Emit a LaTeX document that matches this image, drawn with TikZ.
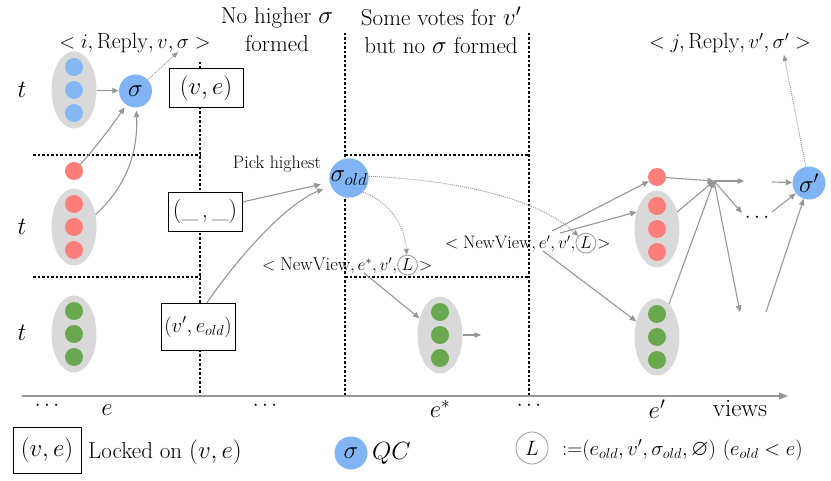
\documentclass[tikz,border=0pt]{standalone}
\usepackage{amssymb}
\usepackage{fontspec}
\usetikzlibrary{shapes.geometric,arrows.meta}
\definecolor{qcblue}{RGB}{128,180,244}
\definecolor{dotblue}{RGB}{133,183,245}
\definecolor{dotred}{RGB}{255,126,121}
\definecolor{dotgreen}{RGB}{106,168,79}
\definecolor{grpgray}{RGB}{217,217,217}
\definecolor{arrgray}{RGB}{150,150,150}
\newcommand\fsz[1]{\fontsize{#1}{#1}\selectfont}
\begin{document}
\begin{tikzpicture}[x=1pt,y=-1pt,
  grp/.style={ellipse,fill=grpgray,minimum width=45pt,minimum height=77pt,inner sep=0pt},
  dotb/.style={circle,fill=dotblue,minimum size=18pt,inner sep=0pt},
  dotr/.style={circle,fill=dotred,minimum size=18pt,inner sep=0pt},
  dotg/.style={circle,fill=dotgreen,minimum size=18pt,inner sep=0pt},
  qc/.style={circle,fill=qcblue,minimum size=33pt,inner sep=0pt,font=\fsz{24}},
  lock/.style={draw,line width=1pt,fill=white,inner sep=0pt,minimum width=74pt,minimum height=39pt,font=\fsz{24}},
  garrow/.style={draw=arrgray,line width=1.1pt,-{Triangle[length=6.5pt,width=5.5pt]}},
  darrow/.style={draw=arrgray,line width=0.9pt,dash pattern=on 1pt off 1pt,-{Triangle[length=6pt,width=5pt]}},
  sep/.style={draw=black,line width=1.4pt,dash pattern=on 2.5pt off 2pt},
  cl/.style={circle,draw=arrgray,line width=0.8pt,inner sep=1.2pt},
  txt/.style={inner sep=0pt}
]
\useasboundingbox (0,0) rectangle (831,481);

% separators
\draw[sep] (200,62) -- (200,397);
\draw[sep] (345,33) -- (345,397);
\draw[sep] (529,33) -- (529,397);
\draw[sep] (33,155) -- (200,155);
\draw[sep] (33,277) -- (200,277);
\draw[sep] (345,155) -- (529,155);
\draw[sep] (345,277) -- (529,277);

% axis
\coordinate (ax0) at (22,396);
\coordinate (ax1) at (788,396);
\draw[draw=arrgray,line width=1.4pt,-{Triangle[length=9pt,width=7pt]}] (ax0) -- (ax1);

% headings
\node[txt,align=center,font=\fsz{23}] (h1) at (277,30) {No higher $\sigma$\\[5pt]formed};
\node[txt,align=center,font=\fsz{23}] (h2) at (441,30) {Some votes for $v'$\\[5pt]but no $\sigma$ formed};
\node[txt,font=\fsz{22}] (rep1) at (135,43) {$<i,\mathrm{Reply},v,\sigma>$};
\node[txt,font=\fsz{22}] (rep2) at (730,43) {$<j,\mathrm{Reply},v',\sigma'>$};

% t labels
\node[txt,font=\fsz{26}] (t1) at (22,90) {$t$};
\node[txt,font=\fsz{26}] (t2) at (22,227) {$t$};
\node[txt,font=\fsz{26}] (t3) at (22,333) {$t$};

% left groups
\node[grp] (g1) at (74,90) {};
\node[dotb] (b1) at (74,67) {};
\node[dotb] (b2) at (74,90) {};
\node[dotb] (b3) at (74,113) {};
\node[qc] (sig) at (135.5,91) {$\sigma$};

\node[dotr] (r0) at (74,171) {};
\node[grp] (g2) at (74,227) {};
\node[dotr] (r1) at (74,204) {};
\node[dotr] (r2) at (74,227) {};
\node[dotr] (r3) at (74,250) {};

\node[grp] (g3) at (74,334) {};
\node[dotg] (gr1) at (74,311) {};
\node[dotg] (gr2) at (74,334) {};
\node[dotg] (gr3) at (74,357) {};

% lock boxes
\node[lock] (lk1) at (206,88.5) {$(v,e)$};
\node[lock] (lk2) at (205,212) {(\_\,,\,\_)};
\node[lock,minimum height=47pt,font=\fsz{20}] (lk3) at (198,327) {$(v',e_{old})$};

% sigma old
\node[qc,minimum size=39pt,font=\fsz{26}] (sold) at (349,178) {$\sigma_{old}$};
\node[txt,font=\fsz{18}] (pick) at (277,164) {Pick highest};

% NewView labels
\node[txt,font=\fsz{18.5},anchor=base west] (nv1) at (262,271) {$<\mathrm{NewView},e^*,v',$};
\node[cl,font=\fsz{18.5},anchor=base west] (nv1L) at (nv1.base east) {$L$};
\node[txt,font=\fsz{18.5},anchor=base west] (nv1e) at ([xshift=1pt]nv1L.base east) {$>$};
\node[txt,font=\fsz{18},anchor=base west] (nv2) at (445,249) {$<\mathrm{NewView},e',v',$};
\node[cl,font=\fsz{18},anchor=base west] (nv2L) at (nv2.base east) {$L$};
\node[txt,font=\fsz{18},anchor=base west] (nv2e) at ([xshift=1pt]nv2L.base east) {$>$};

% middle group
\node[grp] (g4) at (440,335) {};
\node[dotg] (m1) at (440,312) {};
\node[dotg] (m2) at (440,335) {};
\node[dotg] (m3) at (440,358) {};
\coordinate (g4out) at (481,335);

% right groups
\node[dotr] (rr0) at (657,177) {};
\node[grp] (g5) at (657,229) {};
\node[dotr] (rr1) at (657,206) {};
\node[dotr] (rr2) at (657,229) {};
\node[dotr] (rr3) at (657,252) {};
\node[grp] (g6) at (657,337) {};
\node[dotg] (rg1) at (657,314) {};
\node[dotg] (rg2) at (657,337) {};
\node[dotg] (rg3) at (657,360) {};
\node[qc] (sp) at (809,183) {$\sigma'$};
\node[txt,font=\fsz{22}] (rdots) at (757,218) {$\cdots$};

% coordinates
\coordinate (c1) at (178,52);
\coordinate (c2) at (784,55);
\coordinate (n1a) at (364,273);
\coordinate (n2a) at (552,231);
\coordinate (n2b) at (560,233);
\coordinate (n2c) at (543,251);
\coordinate (hub) at (714,181);
\coordinate (d1) at (744,181);
\coordinate (d2) at (742,213);
\coordinate (d3) at (740,312);
\coordinate (e1) at (772,182);
\coordinate (e2) at (772,212);
\coordinate (e3) at (766,312);

% left arrows
\draw[garrow] (g1) -- (sig);
\draw[darrow] (sig) -- (c1);
\draw[garrow,shorten >=3pt] (r0) .. controls (92,152) and (112,126) .. (sig);
\draw[garrow,shorten >=3pt] (g2.30) .. controls (128,185) and (138,150) .. (sig);
\draw[garrow,shorten >=9pt] (lk2.15) -- (sold);
\draw[garrow,shorten >=8pt] (lk3.70) .. controls (240,255) and (285,205) .. (sold);

% dotted from sigma old
\draw[darrow] (sold.-45) .. controls (395,205) and (405,230) .. (nv1L);
\draw[darrow] (sold.5) .. controls (460,180) and (540,200) .. (nv2L);

% middle arrows
\draw[garrow] (n1a) -- (g4);
\draw[garrow] (g4) -- (g4out);

% right arrows
\draw[garrow] (n2a) -- (rr0);
\draw[garrow] (n2b) -- (g5.140);
\draw[garrow] (n2c) -- (g6);
\draw[garrow] (rr0) -- (hub);
\draw[garrow] (g5) -- (hub);
\draw[garrow] (g6) -- (hub);
\draw[garrow] (hub) -- (d1);
\draw[garrow] (hub) -- (d2);
\draw[garrow] (hub) -- (d3);
\draw[garrow] (e1) -- (sp);
\draw[garrow] (e2) -- (sp);
\draw[garrow] (e3) -- (sp);
\draw[darrow] (sp) -- (c2);

% axis labels
\node[txt,font=\fsz{22}] (a1) at (47,406) {$\cdots$};
\node[txt,font=\fsz{27}] (a2) at (107,410) {$e$};
\node[txt,font=\fsz{22}] (a3) at (265,406) {$\cdots$};
\node[txt,font=\fsz{27}] (a4) at (440,409) {$e^*$};
\node[txt,font=\fsz{22}] (a5) at (529,406) {$\cdots$};
\node[txt,font=\fsz{27}] (a6) at (657,409) {$e'$};
\node[txt,font=\fsz{25}] (a7) at (740,409) {views};

% legend
\node[lock,minimum width=68pt,minimum height=46pt] (lg1) at (47,450) {$(v,e)$};
\node[txt,font=\fsz{23},anchor=west] (lg1t) at (88,452) {Locked on $(v,e)$};
\node[qc] (lg2) at (351,453) {$\sigma$};
\node[txt,font=\fsz{27},anchor=west] (lg2t) at (372,453) {$QC$};
\node[cl,minimum size=32pt,font=\fsz{22}] (lg3) at (532,448) {$L$};
\node[txt,font=\fsz{22.5},anchor=west] (lg3t) at (562,450) {${:=}(e_{old},v',\sigma_{old},\varnothing)\ (e_{old}<e)$};
\end{tikzpicture}
\end{document}
